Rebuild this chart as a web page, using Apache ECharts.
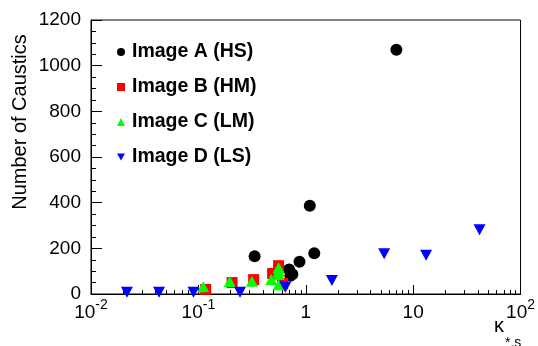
<!DOCTYPE html>
<html><head><meta charset="utf-8">
<script src="https://cdn.jsdelivr.net/npm/echarts@6/dist/echarts.min.js"></script>
<style>html,body{margin:0;padding:0;background:#fff}#c{width:538px;height:346px}</style>
</head><body><div id="c"></div>
<script>
const seriesNames = ['Image A (HS)', 'Image B (HM)', 'Image C (LM)', 'Image D (LS)'];
const imageA = [[0.334,165],[0.70,107],[0.75,86],[0.72,80],[0.874,141],[1.09,386],[1.2,178],[6.98,1070]];
const imageB = [[0.117,20],[0.206,50],[0.327,63],[0.491,90],[0.558,124],[0.608,46]];
const imageC = [[0.111,32],[0.196,55],[0.315,56],[0.477,63],[0.558,115],[0.558,100],[0.558,85],[0.558,41]];
const imageD = [[0.0216,8],[0.043,8],[0.09,8],[0.244,8],[0.645,30],[1.75,59],[5.37,176],[13.2,170],[41.5,281]];
const xTickValues = [0.01, 0.1, 1, 10, 100];
const xTickBase = ['10', '10', '1', '10', '10'];
const xTickExp = ['-2', '-1', '', '', '2'];
const yTickLabels = ['0', '200', '400', '600', '800', '1000', '1200'];
const yTitle = 'Number of Caustics';
const xTitleMain = 'κ';
const xTitleSub = '*,s';

const FONT = '"Liberation Sans", Arial, Helvetica, sans-serif';
const chart = echarts.init(document.getElementById('c'), null, {renderer: 'canvas'});

function xLabel(v) {
  for (let i = 0; i < xTickValues.length; i++) {
    if (Math.abs(Math.log10(v) - Math.log10(xTickValues[i])) < 1e-6) {
      return '{b|' + xTickBase[i] + '}' + (xTickExp[i] ? '{s|' + xTickExp[i] + '}' : '');
    }
  }
  return '';
}

const option = {
  animation: false,
  backgroundColor: '#fff',
  grid: {left: 91, right: 16, top: 20, bottom: 52, show: true, borderColor: '#000', borderWidth: 1, backgroundColor: 'transparent'},
  xAxis: {
    type: 'log', logBase: 10, min: 0.01, max: 100,
    axisLine: {lineStyle: {color: '#000', width: 1}},
    axisTick: {show: true, inside: true, length: 9, lineStyle: {color: '#000', width: 1}},
    minorTick: {show: true, splitNumber: 9, length: 4, lineStyle: {color: '#000', width: 1}},
    splitLine: {show: false},
    axisLabel: {
      margin: 4, color: '#000', fontFamily: FONT,
      formatter: xLabel,
      rich: {
        b: {fontSize: 19, lineHeight: 19, padding: [10, 0, 0, 0], fontFamily: FONT, color: '#000'},
        s: {fontSize: 14, lineHeight: 14, verticalAlign: 'top', fontFamily: FONT, color: '#000'}
      }
    }
  },
  yAxis: {
    type: 'value', min: 0, max: 1200, interval: 200,
    axisLine: {show: true, lineStyle: {color: '#000', width: 1}},
    axisTick: {show: true, inside: true, length: 11, lineStyle: {color: '#000', width: 1}},
    minorTick: {show: true, splitNumber: 4, length: 5, lineStyle: {color: '#000', width: 1}},
    splitLine: {show: false},
    axisLabel: {margin: 10, fontSize: 19, color: '#000', fontFamily: FONT,
      formatter: function (v) { return yTickLabels[Math.round(v / 200)]; }}
  },
  legend: {
    orient: 'vertical', left: 117, top: 42, padding: 0,
    itemWidth: 8, itemHeight: 8, itemGap: 15,
    textStyle: {fontSize: 19.5, fontWeight: 'bold', color: '#000', fontFamily: FONT, lineHeight: 20, padding: [0, 0, 0, 2]},
    data: [
      {name: seriesNames[0], icon: 'circle'},
      {name: seriesNames[1], icon: 'rect'},
      {name: seriesNames[2], icon: 'triangle'},
      {name: seriesNames[3], icon: 'path://M0,0L10,0L5,9Z'}
    ]
  },
  graphic: [
    {type: 'text', x: 20, y: 122, rotation: Math.PI / 2,
      style: {text: yTitle, font: '20px ' + FONT, fill: '#000', textAlign: 'center', textVerticalAlign: 'middle'}},
    {type: 'text', x: 494, y: 326,
      style: {text: xTitleMain, font: '20px ' + FONT, fill: '#000', textAlign: 'left', textVerticalAlign: 'middle'}},
    {type: 'text', x: 505, y: 343,
      style: {text: xTitleSub, font: '14px ' + FONT, fill: '#000', textAlign: 'left', textVerticalAlign: 'middle'}}
  ],
  series: [
    {name: seriesNames[0], type: 'scatter', data: imageA, symbol: 'circle', symbolSize: 12, itemStyle: {color: '#000', opacity: 1}},
    {name: seriesNames[1], type: 'scatter', data: imageB, symbol: 'rect', symbolSize: 11, itemStyle: {color: '#ff0000', opacity: 1}},
    {name: seriesNames[2], type: 'scatter', data: imageC, symbol: 'triangle', symbolSize: [12, 11], itemStyle: {color: '#00ff00', opacity: 1}},
    {name: seriesNames[3], type: 'scatter', data: imageD, symbol: 'triangle', symbolRotate: 180, symbolSize: [12, 11], itemStyle: {color: '#0000ff', opacity: 1}}
  ]
};
chart.setOption(option);
</script>
</body></html>
